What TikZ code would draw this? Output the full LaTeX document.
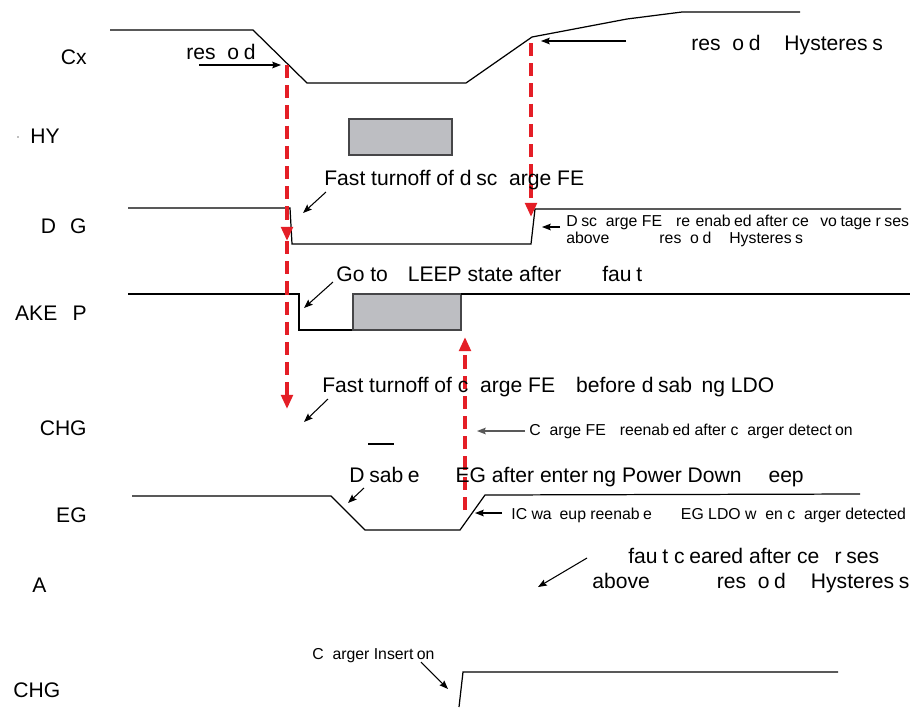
\documentclass[tikz,border=0pt]{standalone}
\usepackage{fontspec}
\setmainfont{Liberation Sans}
\usetikzlibrary{arrows.meta}
\definecolor{sigred}{RGB}{228,30,38}
\definecolor{boxgray}{RGB}{189,190,194}
\definecolor{boxedge}{RGB}{70,70,72}
\newlength\pxu \setlength\pxu{0.02cm}
\newcommand\gapof[1]{\phantom{#1}}
\begin{document}
\begin{tikzpicture}[x=0.02cm,y=-0.02cm,
  wave/.style={black, line width=0.7pt, line join=miter},
  pointer/.style={black, line width=0.6pt, -{Stealth[length=5pt,width=3.8pt,inset=0.8pt]}},
  redarrow/.style={sigred, line width=2pt, dash pattern=on 7.5pt off 4pt, -{Triangle[length=8pt,width=6.5pt]}},
  graybox/.style={fill=boxgray, draw=boxedge, line width=0.6pt},
  big/.style={font=\fontsize{12}{14}\selectfont, inner sep=0pt},
  small/.style={font=\fontsize{9}{11}\selectfont, inner sep=0pt}]
\useasboundingbox (0,0) rectangle (915,707);

% ---- row labels ----
\node[big, anchor=base east] (lcx) at (87,64) {Cx};
\node[big, anchor=base west] (lhy) at (30,143) {HY};
\fill[gray] (18,137) circle (0.8);
\node[big, anchor=base east] (ldsg) at (87,233) {D\gapof{S}G};
\node[big, anchor=base east] (lwake) at (87,320) {AKE\gapof{U}P};
\node[big, anchor=base east] (lchg) at (87,435) {CHG};
\node[big, anchor=base east] (lreg) at (87,522) {EG};
\node[big, anchor=base west] (la) at (32,592) {A};
\node[big, anchor=base west] (lchg2) at (13,697) {CHG};

% ---- waveforms ----
\draw[wave] (110,30) -- (253,30) -- (307,83) -- (466,83) -- (532,37) -- (627,19) -- (682,12) -- (800,12);
\draw[graybox] (349,119) rectangle (452,155);
\draw[wave] (128,208) -- (290,208) -- (292,244) -- (531,244) -- (535,209) -- (901,209);
\draw[wave] (128,294) -- (299,294) -- (299,330) -- (353,330);
\draw[graybox] (353,294) rectangle (461,330);
\draw[wave] (461,294) -- (910,294);
\draw[black, line width=1pt] (368,444) -- (394,444);
\draw[wave] (132,496) -- (331,496) -- (365,530) -- (460,530) -- (485,495) -- (860,494);
\draw[wave] (459,707) -- (463,672) -- (838,672);

% ---- red dashed markers ----
\coordinate (r1a) at (287,65);
\coordinate (r1b) at (287,241);
\coordinate (r1c) at (287,409);
\coordinate (r2a) at (531,43);
\coordinate (r2b) at (531,217);
\coordinate (r3a) at (465,510);
\coordinate (r3b) at (465,337);
\draw[redarrow] (r1a) -- (r1b);
\draw[redarrow] (r1b) -- (r1c);
\draw[redarrow] (r2a) -- (r2b);
\draw[redarrow] (r3a) -- (r3b);

% ---- annotations ----
\node[big, anchor=base west] (t1) at (186,59) {res\gapof{h}o\gapof{l}d};
\coordinate (p1s) at (199,65); \coordinate (p1e) at (281,65);
\draw[pointer] (p1s) -- (p1e);

\node[big, anchor=base west] (t2) at (691,50) {res\gapof{h}o\gapof{l}d\hspace{24\pxu}Hysteres\gapof{i}s};
\coordinate (p2s) at (626,41); \coordinate (p2e) at (541,41);
\draw[pointer] (p2s) -- (p2e);

\node[big, anchor=base west] (t3) at (324,185) {Fast turnoff of d\gapof{i}sc\gapof{h}arge FE};
\coordinate (p3s) at (326,192); \coordinate (p3e) at (303,213);
\draw[pointer] (p3s) -- (p3e);

\node[small, anchor=base west] (t4a) at (566,226) {D\gapof{i}sc\gapof{h}arge FE\gapof{T} re\gapof{-}enab\gapof{l}ed after ce\gapof{ll} vo\gapof{l}tage r\gapof{i}ses};
\node[small, anchor=base west] (t4b) at (566,243) {above\hspace{50\pxu}res\gapof{h}o\gapof{l}d\hspace{18\pxu}Hysteres\gapof{i}s};
\coordinate (p4s) at (560,227); \coordinate (p4e) at (542,227);
\draw[pointer] (p4s) -- (p4e);

\node[big, anchor=base west] (t5) at (336,281) {Go to \gapof{S}LEEP state after \gapof{UV} fau\gapof{l}t};
\coordinate (p5s) at (333,282); \coordinate (p5e) at (304,308);
\draw[pointer] (p5s) -- (p5e);

\node[big, anchor=base west] (t6) at (322,392) {Fast turnoff of c\gapof{h}arge FE\hspace{21\pxu}before d\gapof{i}sab\gapof{li}ng LDO};
\coordinate (p6s) at (328,399); \coordinate (p6e) at (304,422);
\draw[pointer] (p6s) -- (p6e);

\node[small, anchor=base west] (t7) at (529,435) {C\gapof{h}arge FE\gapof{T} reenab\gapof{l}ed after c\gapof{h}arger detect\gapof{i}on};
\coordinate (p7s) at (525,431); \coordinate (p7e) at (477,431);
\draw[pointer, draw=black!65] (p7s) -- (p7e);

\node[big, anchor=base west] (t8) at (349,482) {D\gapof{i}sab\gapof{l}e\hspace{36\pxu}EG after enter\gapof{i}ng Power Down\hspace{27\pxu}eep};
\coordinate (p8s) at (364,488); \coordinate (p8e) at (348,503);
\draw[pointer] (p8s) -- (p8e);

\node[small, anchor=base west] (t9) at (511,519) {IC wa\gapof{k}eup reenab\gapof{l}e\hspace{29\pxu}EG LDO w\gapof{h}en c\gapof{h}arger detected};
\coordinate (p9s) at (502,513); \coordinate (p9e) at (475,513);
\draw[pointer] (p9s) -- (p9e);

\node[big, anchor=base west] (t10a) at (628,563) {fau\gapof{l}t c\gapof{l}eared after ce\gapof{ll} r\gapof{i}ses};
\node[big, anchor=base west] (t10b) at (592,588) {above\hspace{67\pxu}res\gapof{h}o\gapof{l}d\hspace{25\pxu}Hysteres\gapof{i}s};
\coordinate (p10s) at (587,558); \coordinate (p10e) at (538,587);
\draw[pointer] (p10s) -- (p10e);

\node[small, anchor=base west] (t11) at (312,659) {C\gapof{h}arger Insert\gapof{i}on};
\coordinate (p11s) at (421,662); \coordinate (p11e) at (448,689);
\draw[pointer] (p11s) -- (p11e);
\end{tikzpicture}
\end{document}
